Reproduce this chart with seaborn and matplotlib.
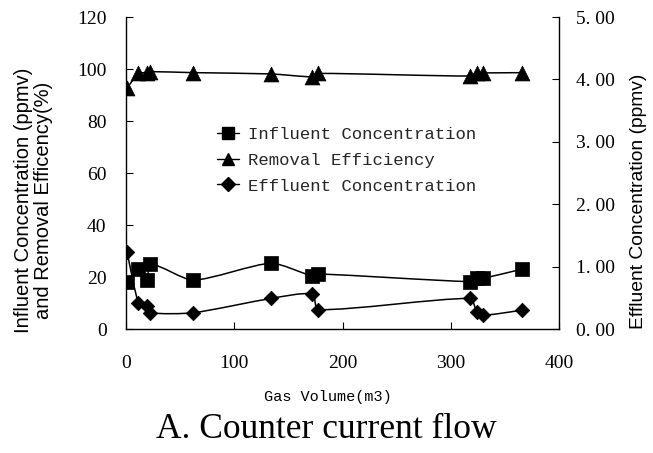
import numpy as np
import pandas as pd
import seaborn as sns
import matplotlib
matplotlib.use("Agg")
import matplotlib.pyplot as plt
from matplotlib.path import Path
from matplotlib.patches import PathPatch
from matplotlib.lines import Line2D
from matplotlib.ticker import FixedLocator, FuncFormatter

# Gas volume treated (m3) at each sampling point
gas_volume = [1, 11.5, 19, 22, 62, 134, 172, 177.5, 318, 324, 330, 365.5]
# Influent concentration (ppmv), left axis
influent = [18.0, 23.0, 18.8, 25.0, 18.8, 25.3, 20.4, 21.2, 18.2, 19.5, 19.5, 23.0]
# Removal efficiency (%), left axis
removal = [92.7, 98.3, 98.6, 99.0, 98.6, 98.1, 97.0, 98.3, 97.3, 98.6, 98.5, 98.6]
# Effluent concentration (ppmv), right axis
effluent = [1.23, 0.42, 0.37, 0.26, 0.26, 0.49, 0.56, 0.31, 0.49, 0.28, 0.22, 0.30]

left_ticks = [0, 20, 40, 60, 80, 100, 120]
right_ticks = [0, 1, 2, 3, 4, 5]
x_ticks = [0, 100, 200, 300, 400]

df = pd.DataFrame({"gas": gas_volume, "influent": influent,
                   "removal": removal, "effluent": effluent})

sns.set_theme(style="white")
plt.rcParams["font.family"] = ["Liberation Serif", "DejaVu Serif"]

SERIF = "Liberation Serif"
SANS = "Liberation Sans"
MONO = "Liberation Mono"


def smooth_path(x, y, sx, sy, k=0.22):
    """Smoothed curve through the points as cubic Bezier segments.

    Tangent directions follow the neighbouring points; handle lengths are
    proportional to each segment's on-screen length (sx, sy = pixels per
    data unit), which keeps closely spaced points from producing loops.
    """
    pts = np.column_stack([np.asarray(x, float) * sx, np.asarray(y, float) * sy])
    n = len(pts)
    tang = []
    for i in range(n):
        d = pts[min(i + 1, n - 1)] - pts[max(i - 1, 0)]
        tang.append(d / (np.hypot(*d) or 1.0))
    verts = [pts[0]]
    codes = [Path.MOVETO]
    for i in range(n - 1):
        p1, p2 = pts[i], pts[i + 1]
        L = np.hypot(*(p2 - p1))
        c1 = p1 + tang[i] * L * k
        c2 = p2 - tang[i + 1] * L * k
        verts += [c1, c2, p2]
        codes += [Path.CURVE4] * 3
    verts = np.array(verts) / np.array([sx, sy])
    return Path(verts, codes)


fig = plt.figure(figsize=(6.53, 4.53), dpi=100)
ax = fig.add_axes([126 / 653, 1 - 329 / 453, 433 / 653, 312 / 453])
ax2 = ax.twinx()

PX_X = 433 / 400
PX_L = 312 / 120
PX_R = 312 / 5

# smoothed connecting lines
ax.add_patch(PathPatch(smooth_path(df.gas, df.removal, PX_X, PX_L), fill=False,
                       edgecolor="black", lw=1.1, zorder=2))
ax.add_patch(PathPatch(smooth_path(df.gas, df.influent, PX_X, PX_L), fill=False,
                       edgecolor="black", lw=1.1, zorder=2))
ax2.add_patch(PathPatch(smooth_path(df.gas, df.effluent, PX_X, PX_R), fill=False,
                        edgecolor="black", lw=1.1, zorder=2))

# markers
sns.scatterplot(data=df, x="gas", y="influent", marker="s", s=90,
                color="black", edgecolor="black", linewidth=0.5, ax=ax,
                zorder=3, legend=False)
sns.scatterplot(data=df, x="gas", y="removal", marker="^", s=115,
                color="black", edgecolor="black", linewidth=0.5, ax=ax,
                zorder=3, legend=False)
sns.scatterplot(data=df, x="gas", y="effluent", marker="D", s=55,
                color="black", edgecolor="black", linewidth=0.5, ax=ax2,
                zorder=3, legend=False)

ax.set_xlim(0, 400)
ax.set_ylim(0, 120)
ax2.set_ylim(0, 5)

ax.xaxis.set_major_locator(FixedLocator(x_ticks))
ax.yaxis.set_major_locator(FixedLocator(left_ticks))
ax2.yaxis.set_major_locator(FixedLocator(right_ticks))
ax2.yaxis.set_major_formatter(FuncFormatter(lambda v, p: f"{v:.2f}".replace(".", ". ")))

for a in (ax, ax2):
    for s in a.spines.values():
        s.set_color("black")
        s.set_linewidth(1.0)
    a.spines["top"].set_visible(False)
ax.spines["right"].set_visible(False)
ax2.spines["left"].set_visible(False)
ax2.spines["bottom"].set_visible(False)

ax.tick_params(axis="x", direction="in", length=5, width=0.8, pad=19,
               labelsize=14, colors="black", bottom=True)
ax.tick_params(axis="y", direction="in", length=5, width=0.8, pad=14,
               labelsize=14, colors="black", left=True)
ax2.tick_params(axis="y", direction="in", length=5, width=0.8, pad=12,
                labelsize=14, colors="black", right=True)
for lab in ax.get_xticklabels() + ax.get_yticklabels() + ax2.get_yticklabels():
    lab.set_fontfamily(SERIF)

ax.set_xlabel("Gas Volume(m3)", fontfamily=MONO, fontsize=11, color="black")
ax.xaxis.set_label_coords(0.467, -0.197)
ax.set_ylabel("Influent Concentration (ppmv)\nand Removal Efficency(%)",
              fontfamily=SANS, fontsize=14.5, color="black", linespacing=1.1)
ax.yaxis.set_label_coords(-0.168, 0.413)
ax2.set_ylabel("Effluent Concentration (ppmv)", fontfamily=SANS,
               fontsize=13.9, color="black", rotation=90)
ax2.yaxis.set_label_coords(1.165, 0.41)

handles = [
    Line2D([], [], color="black", lw=1.0, marker="s", markersize=8),
    Line2D([], [], color="black", lw=1.0, marker="^", markersize=9),
    Line2D([], [], color="black", lw=1.0, marker="D", markersize=7),
]
labels = ["Influent Concentration", "Removal Efficiency", "Effluent Concentration"]
ax.legend(handles, labels, loc="upper left",
          bbox_to_anchor=(217 / 653, 1 - 127 / 453), bbox_transform=fig.transFigure,
          frameon=False, prop={"family": MONO, "size": 12.4},
          handlelength=1.3, handletextpad=0.5, labelspacing=0.62,
          borderpad=0, borderaxespad=0)

fig.text(326 / 653, 1 - 438 / 453, "A. Counter current flow", ha="center",
         va="baseline", fontfamily=SERIF, fontsize=25.5, color="black")

fig.savefig("out.png", dpi=100, facecolor="white")
